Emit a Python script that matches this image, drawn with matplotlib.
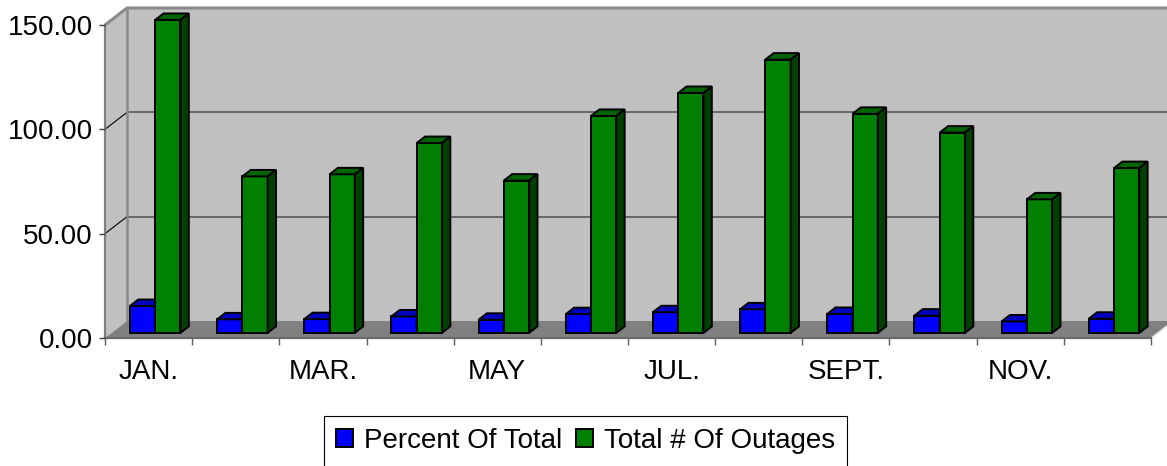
import matplotlib
matplotlib.use("Agg")
import matplotlib.pyplot as plt
from matplotlib.patches import Polygon, Patch
from matplotlib.ticker import FixedLocator, FormatStrFormatter

plt.rcParams['font.family'] = ['Liberation Sans', 'DejaVu Sans']

months = ["JAN.", "FEB.", "MAR.", "APR.", "MAY", "JUNE",
          "JUL.", "AUG.", "SEPT.", "OCT.", "NOV.", "DEC."]
outages = [150, 75, 76, 91, 73, 104, 115, 131, 105, 96, 64, 79]
percent = [12.9, 6.5, 6.6, 7.9, 6.3, 9.0, 9.9, 11.3, 9.1, 8.3, 5.5, 6.8]
series_names = ["Percent Of Total", "Total # Of Outages"]
yticks = [0, 50, 100, 150]

W, H = 1167, 466
fig = plt.figure(figsize=(W / 100, H / 100), dpi=100)
# front plane of the 3d box, in pixels: x 105..1151, y 338..25
ax = fig.add_axes([105 / W, (H - 338) / H, 1046 / W, 313 / H])
ax.set_xlim(0, 12)
ax.set_ylim(0, 150)

# depth of the floor in data units (22 px right, 17 px up)
DX = 22 / (1046 / 12)
DY = 17 / (313 / 150)
n = len(months)
ytop = yticks[-1]
fs = 20

wall = '#c0c0c0'
# back wall
ax.add_patch(Polygon([(DX, DY), (n + DX, DY), (n + DX, ytop + DY), (DX, ytop + DY)],
                     closed=True, fc=wall, ec='none', zorder=0.5, clip_on=False))
# left wall
ax.add_patch(Polygon([(0, 0), (DX, DY), (DX, ytop + DY), (0, ytop)],
                     closed=True, fc=wall, ec='none', zorder=0.6, clip_on=False))
# floor
ax.add_patch(Polygon([(0, 0), (n, 0), (n + DX, DY), (DX, DY)],
                     closed=True, fc='#808080', ec='none', zorder=0.7, clip_on=False))

for v in yticks[1:-1]:
    ax.plot([DX, n + DX], [v + DY, v + DY], color='#606060', lw=1.3, zorder=0.8, clip_on=False)
    ax.plot([0, DX], [v, v + DY], color='black', lw=0.8, zorder=0.8, clip_on=False)
ax.plot([0, DX, n + DX], [ytop, ytop + DY, ytop + DY], color='#8a8a8a', lw=2.2,
        zorder=0.9, clip_on=False, solid_capstyle='butt')
ax.plot([DX, DX], [DY, ytop + DY], color='#8a8a8a', lw=1.8, zorder=0.9, clip_on=False)
ax.plot([n, n + DX], [0, DY], color='#d8d8d8', lw=1.0, zorder=0.9, clip_on=False)

# bars
w = 0.29
f0, fd = 0.3, 0.38
ox, oy = f0 * DX, f0 * DY
bx, by = fd * DX, fd * DY
styles = [('#0000ff', '#0000c0', '#000080'), ('#008000', '#006400', '#004000')]
for k, vals in enumerate([percent, outages]):
    front, top, side = styles[k]
    lefts = [i + 0.5 - w + k * w + ox for i in range(n)]
    z = 3 + k
    ax.bar(lefts, vals, width=w, bottom=oy, align='edge', color=front,
           edgecolor='black', linewidth=1.4, zorder=z, clip_on=False)
    for x0, v in zip(lefts, vals):
        t = oy + v
        ax.add_patch(Polygon([(x0, t), (x0 + w, t), (x0 + w + bx, t + by), (x0 + bx, t + by)],
                             closed=True, fc=top, ec='black', lw=1.4, zorder=z, clip_on=False))
        ax.add_patch(Polygon([(x0 + w, oy), (x0 + w + bx, oy + by), (x0 + w + bx, t + by), (x0 + w, t)],
                             closed=True, fc=side, ec='black', lw=1.4, zorder=z, clip_on=False))

# axes and ticks
for s in ['top', 'right']:
    ax.spines[s].set_visible(False)
ax.spines['left'].set_color('#808080')
ax.spines['left'].set_linewidth(1.6)
ax.spines['bottom'].set_color('#6a6a6a')
ax.spines['bottom'].set_linewidth(1.6)
ax.spines['left'].set_zorder(1)
ax.spines['bottom'].set_zorder(1)
ax.set_facecolor('none')

ax.yaxis.set_major_locator(FixedLocator(yticks))
ax.yaxis.set_major_formatter(FormatStrFormatter('%.2f'))
ax.tick_params(axis='y', length=4, width=1, color='#404040', pad=5, labelsize=fs)

ax.set_xticks([i + 0.5 for i in range(n)])
ax.set_xticklabels([m if i % 2 == 0 else '' for i, m in enumerate(months)])
ax.set_xticks(range(n + 1), minor=True)
ax.tick_params(axis='x', which='major', length=0, pad=15, labelsize=fs)
ax.tick_params(axis='x', which='minor', length=5, width=1, color='#606060')

handles = [Patch(fc=styles[0][0], ec='black', lw=1.4), Patch(fc=styles[1][0], ec='black', lw=1.4)]
leg = fig.legend(handles, series_names, loc='center', ncol=2,
                 bbox_to_anchor=(585.5 / W, (H - 441) / H), fontsize=fs,
                 frameon=True, fancybox=False, edgecolor='black', framealpha=1,
                 handlelength=0.6, handleheight=0.6, handletextpad=0.4,
                 columnspacing=0.5, borderpad=0.45, borderaxespad=0)
leg.get_frame().set_linewidth(0.8)

fig.savefig('out.png', dpi=100)
